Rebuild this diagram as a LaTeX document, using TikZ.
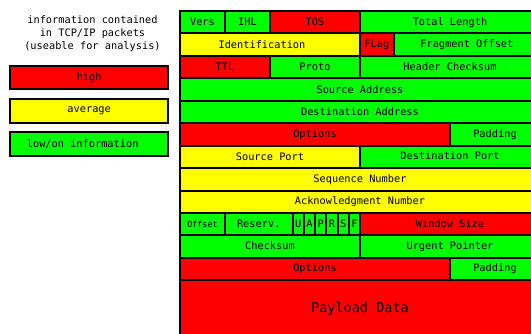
\documentclass[tikz,border=0pt]{standalone}
\usepackage{fontspec}
\setmonofont{DejaVu Sans Mono}
\definecolor{hi}{RGB}{255,0,0}
\definecolor{mid}{RGB}{255,255,0}
\definecolor{lo}{RGB}{0,255,0}
\newcommand\bitw{11.25pt}
\newcommand\rowh{22.44pt}
% one header field: name, first bit, bit count, row, colour, text
\newcommand\field[6]{\node[cell, fill=#5, minimum width={#3*\bitw}] (#1) at ({179pt+#2*\bitw}, {-10pt-#4*\rowh}) {#6};}
\tikzset{
  txt/.style={font=\ttfamily\fontsize{10.3}{13.3}\selectfont, text=black},
  cell/.style={txt, draw=black, line width=2pt, inner sep=0pt, minimum height=\rowh, anchor=north west},
  legendbox/.style={txt, draw=black, line width=2pt, inner sep=0pt, minimum width=158pt, minimum height=23.5pt},
}
\begin{document}
\begin{tikzpicture}
\clip (0,0) rectangle (531pt,-333pt);

% legend
\node[txt, align=center] (title) at (92.5pt,-33.6pt)
  {information contained\\in TCP/IP packets\\(useable for analysis)};
\node[legendbox, fill=hi]  (lhigh) at (89.2pt,-77.5pt)  {high};
\node[legendbox, fill=mid] (lavg)  at (89.2pt,-111.2pt) {average};
\node[legendbox, fill=lo]  (llow)  at (89.2pt,-144pt)   {low/on information\hspace*{13pt}};

% IP header
\field{vers}{0}{4}{0}{lo}{Vers}
\field{ihl}{4}{4}{0}{lo}{IHL}
\field{tos}{8}{8}{0}{hi}{TOS}
\field{totlen}{16}{16}{0}{lo}{Total Length}
\field{ident}{0}{16}{1}{mid}{Identification\hspace*{16pt}}
\field{flag}{16}{3}{1}{hi}{FLag}
\field{fragoff}{19}{13}{1}{lo}{Fragment Offset}
\field{ttl}{0}{8}{2}{hi}{TTL}
\field{proto}{8}{8}{2}{lo}{Proto}
\field{hdrcks}{16}{16}{2}{lo}{Header Checksum}
\field{srcaddr}{0}{32}{3}{lo}{Source Address}
\field{dstaddr}{0}{32}{4}{lo}{Destination Address}
\field{ipopt}{0}{24}{5}{hi}{Options}
\field{ippad}{24}{8}{5}{lo}{Padding}

% TCP header
\field{srcport}{0}{16}{6}{mid}{Source Port}
\field{dstport}{16}{16}{6}{lo}{\raisebox{2.5pt}{Destination Port}}
\field{seq}{0}{32}{7}{mid}{Sequence Number}
\field{ack}{0}{32}{8}{mid}{Acknowledgment Number}
\field{offset}{0}{4}{9}{lo}{\fontsize{8.4}{10}\selectfont Offset}
\field{reserv}{4}{6}{9}{lo}{\raisebox{1pt}{Reserv.}}
\field{furg}{10}{1}{9}{lo}{U}
\field{fack}{11}{1}{9}{lo}{A}
\field{fpsh}{12}{1}{9}{lo}{P}
\field{frst}{13}{1}{9}{lo}{R}
\field{fsyn}{14}{1}{9}{lo}{S}
\field{ffin}{15}{1}{9}{lo}{F}
\field{window}{16}{16}{9}{hi}{\raisebox{1.5pt}{Window Size}}
\field{tcpcks}{0}{16}{10}{lo}{\raisebox{2pt}{Checksum}}
\field{urgent}{16}{16}{10}{lo}{Urgent Pointer}
\field{tcpopt}{0}{24}{11}{hi}{Options}
\field{tcppad}{24}{8}{11}{lo}{\raisebox{1.5pt}{Padding}}

% payload
\node[cell, fill=hi, minimum width={32*\bitw}, minimum height=56pt,
      font=\ttfamily\fontsize{13.5}{16}\selectfont] (payload)
  at (179pt, {-10pt-12*\rowh}) {Payload Data};
\end{tikzpicture}
\end{document}
